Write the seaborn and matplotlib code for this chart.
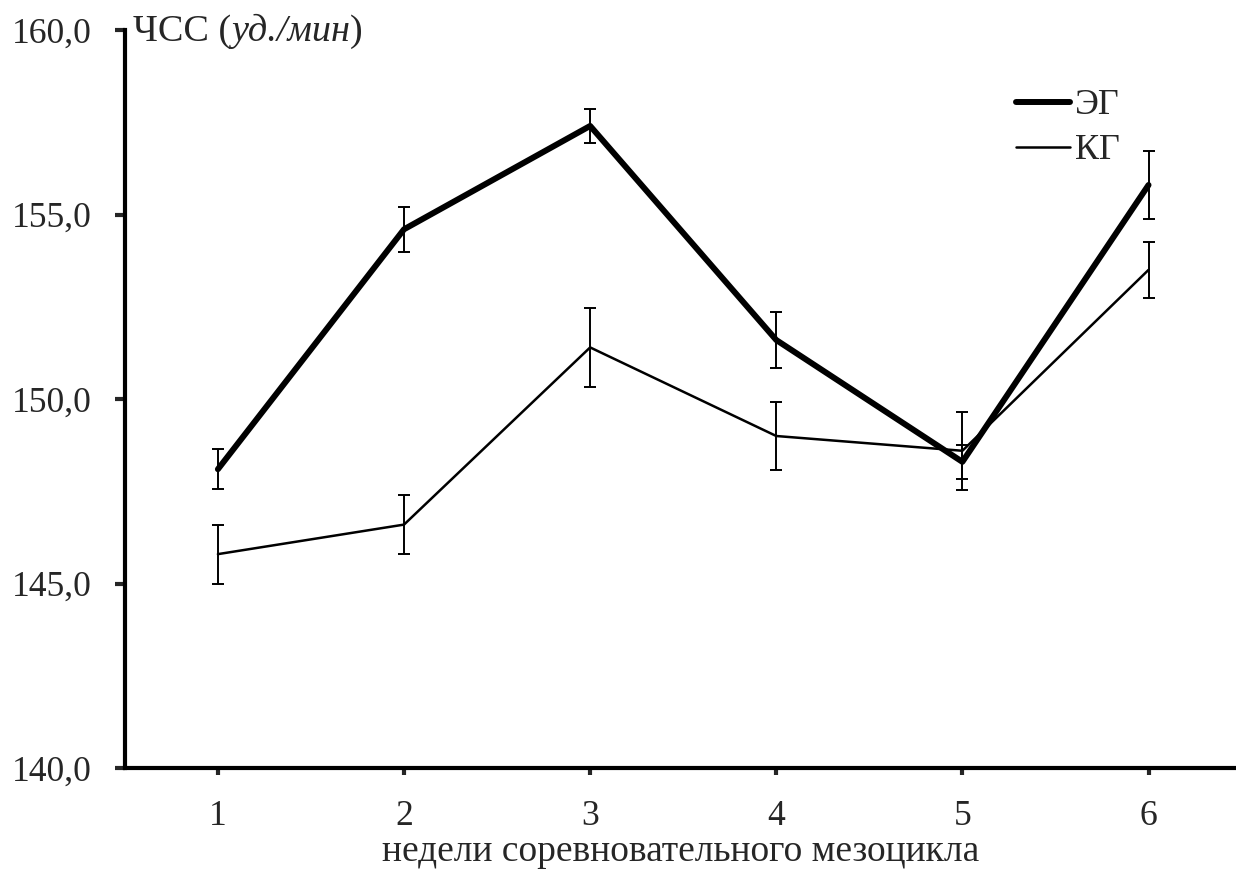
import pandas as pd
import matplotlib
matplotlib.use("Agg")
import matplotlib.pyplot as plt
import seaborn as sns

# данные: ЧСС по неделям соревновательного мезоцикла
weeks = [1, 2, 3, 4, 5, 6]
eg_mean = [148.1, 154.6, 157.4, 151.6, 148.3, 155.8]
eg_err = [0.54, 0.61, 0.45, 0.76, 0.46, 0.93]
kg_mean = [145.8, 146.6, 151.4, 149.0, 148.6, 153.5]
kg_err = [0.80, 0.80, 1.07, 0.92, 1.05, 0.75]

y_ticks = [140, 145, 150, 155, 160]
y_labels = ["140,0", "145,0", "150,0", "155,0", "160,0"]

df = pd.DataFrame({
    "week": weeks * 2,
    "hr": eg_mean + kg_mean,
    "group": ["ЭГ"] * len(weeks) + ["КГ"] * len(weeks),
})

sns.set_style("white")
plt.rcParams["font.family"] = ["Liberation Serif", "DejaVu Serif"]
plt.rcParams["font.size"] = 26

fig = plt.figure(figsize=(12.36, 8.81), dpi=100)
ax = fig.add_axes([0.101, 0.128, 0.899, 0.838])

sns.lineplot(
    data=df, x="week", y="hr", hue="group", size="group",
    sizes={"ЭГ": 4.3, "КГ": 1.8},
    palette={"ЭГ": "black", "КГ": "black"},
    ax=ax, legend=True,
)
ax.errorbar(weeks, eg_mean, yerr=eg_err, fmt="none", ecolor="black",
            elinewidth=1.4, capsize=4, capthick=1.4)
ax.errorbar(weeks, kg_mean, yerr=kg_err, fmt="none", ecolor="black",
            elinewidth=1.4, capsize=4, capthick=1.4)

ax.set_xlim(0.5, 6.47)
ax.set_ylim(140, 160)
ax.set_xticks(weeks)
ax.set_xticklabels([str(w) for w in weeks])
ax.set_yticks(y_ticks)
ax.set_yticklabels(y_labels)

for s in ["top", "right"]:
    ax.spines[s].set_visible(False)
for s in ["left", "bottom"]:
    ax.spines[s].set_linewidth(3)
    ax.spines[s].set_color("black")

ax.tick_params(axis="y", direction="out", length=7, width=3, pad=16.5,
               labelsize=25.7, left=True)
ax.tick_params(axis="x", direction="out", length=5, width=3, pad=18,
               labelsize=25.7, bottom=True)

ax.set_xlabel("недели соревновательного мезоцикла", fontsize=27, labelpad=1)
ax.set_ylabel("")

# подпись оси Y: ЧСС (уд./мин), часть курсивом
t1 = ax.text(0.007, 0.998, "ЧСС (", transform=ax.transAxes,
             fontsize=27.5, va="center", ha="left")
t2 = ax.annotate("уд./мин", xy=(1, 0), xycoords=t1, va="bottom", ha="left",
                 fontsize=27.5, style="italic")
ax.annotate(")", xy=(1, 0), xycoords=t2, va="bottom", ha="left", fontsize=27.5)

handles, labels = ax.get_legend_handles_labels()
ax.legend(handles, labels, loc="upper left",
          bbox_to_anchor=(1016 / 1236, 1 - 89 / 881),
          bbox_transform=fig.transFigure, frameon=False, fontsize=26,
          handlelength=1.5, handletextpad=0.13, labelspacing=0.33,
          borderpad=0, borderaxespad=0)

fig.savefig("out.png", dpi=100)
